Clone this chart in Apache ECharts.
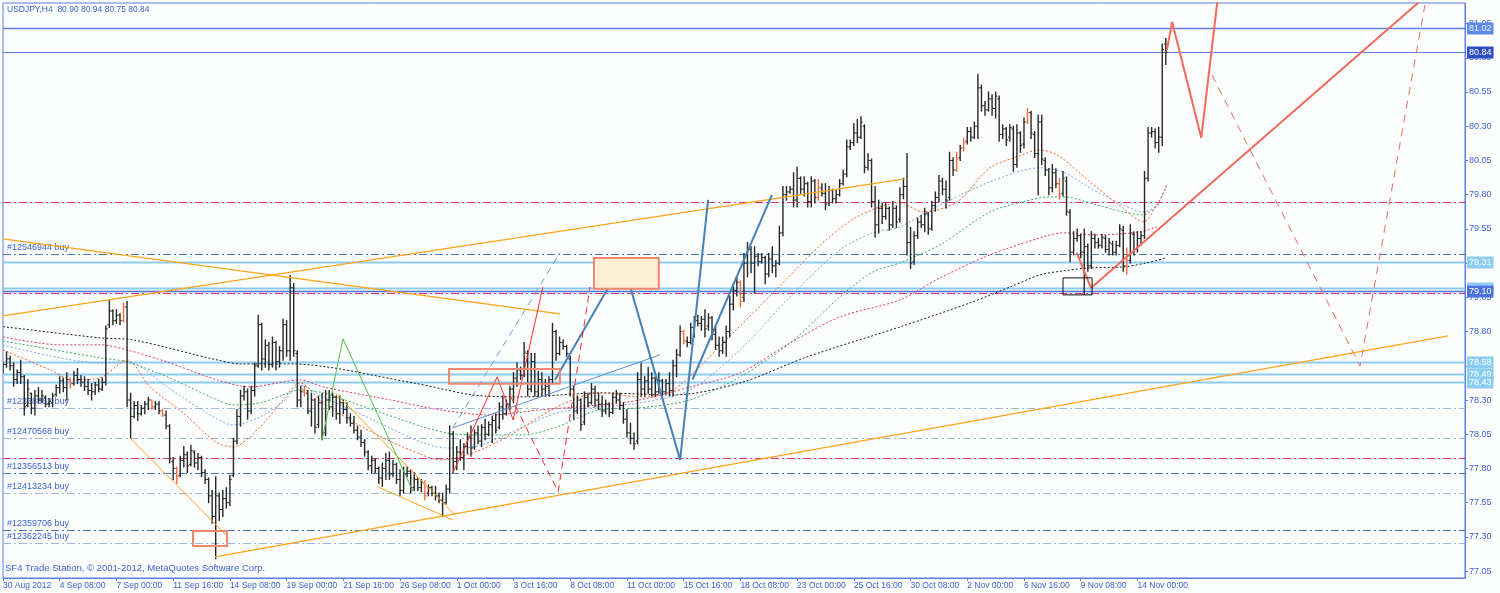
<!DOCTYPE html>
<html><head><meta charset="utf-8">
<script src="https://cdn.jsdelivr.net/npm/echarts@6.0.0/dist/echarts.min.js"></script>
<style>html,body{margin:0;padding:0;background:#fcfdfd}#c{width:1500px;height:593px}</style>
</head><body><div id="c"></div>
<script>
// ---------- DATA ----------
const xTickIdx = [0,16,32,48,64,80,96,112,128,144,160,176,192,208,224,240,256,272,288,304,320];
const xTickLabels = ['30 Aug 2012','4 Sep 08:00','7 Sep 00:00','11 Sep 16:00','14 Sep 08:00','19 Sep 00:00','21 Sep 16:00','26 Sep 08:00','1 Oct 00:00','3 Oct 16:00','8 Oct 08:00','11 Oct 00:00','15 Oct 16:00','18 Oct 08:00','23 Oct 00:00','25 Oct 16:00','30 Oct 08:00','2 Nov 00:00','6 Nov 16:00','9 Nov 08:00','14 Nov 00:00'];
const yTicks = [77.05,77.30,77.55,77.80,78.05,78.30,78.55,78.80,79.05,79.30,79.55,79.80,80.05,80.30,80.55,80.80,81.05];

const opens = [
78.52,78.56,78.60,78.55,78.45,78.50,78.47,78.26,78.35,78.24,
78.33,78.30,78.32,78.27,78.28,78.34,78.39,78.44,78.39,78.44,
78.42,78.48,78.45,78.43,78.40,78.37,78.36,78.41,78.38,78.43,
78.85,78.95,78.88,78.92,78.88,78.98,78.30,78.18,78.26,78.20,
78.24,78.27,78.30,78.25,78.27,78.22,78.19,78.11,77.85,77.80,
77.75,77.86,77.90,77.83,77.92,77.84,77.88,77.77,77.72,77.60,
77.45,77.60,77.50,77.58,77.55,77.75,78.00,78.18,78.33,78.36,
78.22,78.37,78.55,78.85,78.60,78.70,78.56,78.72,78.58,78.66,
78.85,78.66,79.12,78.64,78.30,78.36,78.35,78.22,78.30,78.12,
78.28,78.06,78.30,78.25,78.32,78.20,78.28,78.23,78.17,78.13,
78.08,78.03,77.99,77.92,77.82,77.86,77.80,77.73,77.80,77.86,
77.76,77.83,77.72,77.64,77.76,77.78,77.66,77.72,77.66,77.69,
77.62,77.66,77.62,77.60,77.57,77.55,77.65,78.05,77.85,77.92,
77.88,77.96,78.03,77.95,78.06,78.00,78.10,78.05,78.12,78.15,
78.10,78.25,78.20,78.27,78.38,78.46,78.52,78.48,78.64,78.38,
78.58,78.36,78.45,78.38,78.40,78.45,78.80,78.64,78.72,78.69,
78.60,78.38,78.22,78.30,78.14,78.32,78.28,78.38,78.30,78.27,
78.22,78.27,78.21,78.32,78.30,78.26,78.16,78.06,78.02,78.00,
78.45,78.38,78.44,78.38,78.46,78.36,78.44,78.36,78.42,78.37,
78.55,78.63,78.80,78.73,78.72,78.83,78.88,78.86,78.89,78.84,
78.90,78.78,78.70,78.66,78.72,78.80,79.00,79.10,79.16,79.05,
79.30,79.40,79.30,79.35,79.31,79.34,79.22,79.33,79.28,79.30,
79.52,79.80,79.82,79.84,79.76,79.92,79.84,79.88,79.75,79.90,
79.78,79.85,79.81,79.74,79.83,79.77,79.80,79.88,79.95,80.15,
80.18,80.25,80.22,80.30,80.00,80.05,79.75,79.58,79.70,79.64,
79.70,79.58,79.70,79.62,79.80,79.86,79.45,79.31,79.50,79.60,
79.58,79.66,79.55,79.72,79.78,79.90,79.84,79.78,80.05,79.98,
80.07,80.14,80.19,80.26,80.22,80.30,80.58,80.45,80.42,80.50,
80.43,80.50,80.24,80.28,80.22,80.28,80.02,80.25,80.17,80.33,
80.40,80.24,80.10,80.33,80.05,79.98,79.85,79.96,79.88,79.81,
79.90,79.67,79.38,79.48,79.50,79.38,79.42,79.28,79.48,79.45,
79.43,79.48,79.40,79.44,79.38,79.43,79.54,79.28,79.32,79.51,
79.40,79.48,79.50,79.92,80.25,80.26,80.18,80.22,80.90];
const highs = [
78.58,78.65,78.62,78.57,78.52,78.59,78.48,78.45,78.35,78.37,
78.39,78.37,78.33,78.31,78.35,78.41,78.47,78.46,78.50,78.46,
78.51,78.53,78.48,78.47,78.45,78.42,78.43,78.45,78.46,78.84,
79.03,78.96,78.96,78.93,79.01,79.02,78.35,78.29,78.29,78.26,
78.29,78.32,78.30,78.29,78.29,78.23,78.22,78.12,77.88,77.81,
77.89,77.96,77.92,77.97,77.93,77.91,77.89,77.79,77.73,77.64,
77.74,77.62,77.64,77.66,77.75,78.02,78.23,78.37,78.40,78.38,
78.40,78.57,78.92,78.86,78.74,78.72,78.76,78.73,78.69,78.89,
78.88,79.21,79.15,78.66,78.40,78.40,78.37,78.35,78.31,78.33,
78.35,78.37,78.37,78.35,78.33,78.33,78.30,78.28,78.20,78.18,
78.11,78.08,78.01,77.93,77.89,77.87,77.81,77.84,77.91,77.92,
77.86,77.84,77.79,77.81,77.81,77.79,77.77,77.73,77.72,77.71,
77.68,77.67,77.67,77.62,77.62,77.68,78.11,78.07,77.96,78.01,
77.98,78.06,78.11,78.08,78.11,78.12,78.16,78.14,78.18,78.20,
78.28,78.33,78.30,78.40,78.50,78.57,78.54,78.72,78.66,78.64,
78.64,78.51,78.50,78.45,78.47,78.86,78.81,78.76,78.74,78.70,
78.62,78.40,78.33,78.31,78.36,78.35,78.42,78.40,78.35,78.33,
78.30,78.28,78.35,78.37,78.35,78.28,78.23,78.13,78.06,78.50,
78.57,78.47,78.54,78.50,78.47,78.50,78.45,78.45,78.50,78.59,
78.67,78.84,78.81,78.76,78.86,78.91,78.92,78.91,78.96,78.93,
78.91,78.84,78.76,78.76,78.84,79.06,79.15,79.20,79.17,79.37,
79.45,79.42,79.42,79.37,79.37,79.35,79.37,79.42,79.32,79.57,
79.86,79.86,79.86,79.96,80.00,79.93,79.93,79.89,79.93,79.91,
79.91,79.88,79.88,79.86,79.84,79.83,79.91,79.98,80.20,80.20,
80.32,80.35,80.37,80.31,80.10,80.06,79.86,79.76,79.74,79.74,
79.71,79.75,79.72,79.85,79.92,80.10,79.56,79.53,79.63,79.65,
79.70,79.67,79.75,79.82,79.94,79.92,79.90,80.11,80.07,80.11,
80.16,80.21,80.29,80.29,80.33,80.68,80.60,80.48,80.55,80.53,
80.55,80.52,80.31,80.29,80.31,80.30,80.31,80.26,80.36,80.43,
80.41,80.26,80.38,80.38,80.07,79.99,80.02,79.99,79.92,79.97,
79.93,79.69,79.53,79.55,79.51,79.55,79.44,79.53,79.51,79.48,
79.51,79.50,79.48,79.46,79.46,79.58,79.57,79.41,79.58,79.53,
79.53,79.53,79.97,80.29,80.29,80.28,80.29,80.90,80.94];
const lows = [
78.50,78.54,78.52,78.40,78.42,78.42,78.19,78.25,78.20,78.19,
78.28,78.28,78.25,78.25,78.25,78.33,78.35,78.36,78.30,78.39,
78.41,78.42,78.40,78.37,78.34,78.30,78.34,78.36,78.37,78.41,
78.83,78.85,78.86,78.85,78.87,78.25,78.02,78.17,78.15,78.19,
78.20,78.23,78.23,78.23,78.20,78.18,78.09,77.84,77.72,77.69,
77.74,77.81,77.77,77.82,77.81,77.79,77.74,77.69,77.55,77.40,
77.14,77.42,77.45,77.51,77.53,77.74,77.98,78.11,78.30,78.16,
78.20,78.33,78.54,78.52,78.54,78.52,78.54,78.52,78.54,78.59,
78.62,78.59,78.62,78.25,78.25,78.33,78.20,78.11,78.06,78.10,
78.01,78.04,78.23,78.18,78.16,78.13,78.20,78.13,78.11,78.06,
78.01,77.96,77.89,77.79,77.77,77.77,77.69,77.67,77.72,77.72,
77.74,77.69,77.60,77.62,77.74,77.62,77.64,77.64,77.63,77.57,
77.60,77.60,77.57,77.55,77.45,77.54,77.62,77.77,77.79,77.86,
77.79,77.91,77.89,77.94,77.98,77.96,78.01,78.04,77.99,78.06,
78.09,78.16,78.19,78.23,78.28,78.40,78.45,78.47,78.33,78.36,
78.33,78.33,78.33,78.33,78.33,78.42,78.59,78.63,78.67,78.62,
78.33,78.16,78.20,78.08,78.12,78.25,78.27,78.25,78.23,78.18,
78.20,78.18,78.20,78.28,78.23,78.13,78.03,77.98,77.94,77.98,
78.33,78.33,78.35,78.33,78.33,78.35,78.33,78.35,78.33,78.33,
78.47,78.62,78.71,78.69,78.71,78.76,78.84,78.81,78.76,78.81,
78.74,78.67,78.62,78.64,78.62,78.76,78.96,79.06,78.98,79.02,
79.20,79.23,79.08,79.28,79.30,79.15,79.20,79.23,79.20,79.29,
79.50,79.76,79.81,79.71,79.71,79.81,79.79,79.71,79.71,79.74,
79.76,79.79,79.69,79.72,79.74,79.74,79.79,79.87,79.93,80.13,
80.16,80.18,80.21,79.96,79.98,79.71,79.49,79.52,79.59,79.62,
79.54,79.56,79.56,79.60,79.77,79.36,79.26,79.29,79.48,79.56,
79.53,79.51,79.54,79.68,79.75,79.80,79.70,79.76,79.94,79.97,
80.05,80.12,80.17,80.19,80.21,80.21,80.41,80.38,80.41,80.38,
80.36,80.19,80.21,80.16,80.19,79.97,80.00,80.11,80.14,80.32,
80.21,80.07,79.80,80.02,79.94,79.80,79.82,79.85,79.77,79.79,
79.65,79.31,79.36,79.46,79.34,79.07,79.24,79.26,79.41,79.41,
79.41,79.38,79.36,79.36,79.36,79.42,79.24,79.22,79.30,79.36,
79.38,79.43,79.48,79.90,80.22,80.14,80.11,80.16,80.75];
const closes = [
78.56,78.60,78.55,78.45,78.50,78.47,78.25,78.38,78.24,78.33,
78.30,78.33,78.27,78.29,78.33,78.39,78.44,78.39,78.45,78.42,
78.48,78.45,78.43,78.40,78.37,78.36,78.41,78.38,78.43,78.82,
78.95,78.88,78.92,78.88,78.98,78.30,78.18,78.26,78.20,78.24,
78.27,78.30,78.25,78.27,78.22,78.19,78.11,77.87,77.80,77.74,
77.86,77.90,77.82,77.93,77.84,77.88,77.77,77.72,77.60,77.45,
77.60,77.50,77.58,77.55,77.72,78.00,78.18,78.33,78.36,78.22,
78.37,78.55,78.85,78.60,78.70,78.56,78.72,78.58,78.66,78.85,
78.66,79.12,78.66,78.30,78.36,78.35,78.22,78.30,78.10,78.28,
78.05,78.30,78.25,78.32,78.20,78.28,78.23,78.17,78.13,78.08,
78.03,77.99,77.92,77.82,77.86,77.80,77.73,77.80,77.86,77.76,
77.83,77.72,77.64,77.76,77.78,77.66,77.72,77.66,77.70,77.60,
77.66,77.62,77.60,77.57,77.55,77.65,78.05,77.85,77.92,77.88,
77.96,78.03,77.95,78.06,78.00,78.10,78.05,78.12,78.15,78.08,
78.25,78.20,78.27,78.38,78.46,78.52,78.48,78.65,78.38,78.58,
78.36,78.45,78.38,78.40,78.45,78.80,78.64,78.72,78.69,78.64,
78.38,78.22,78.30,78.12,78.32,78.28,78.38,78.30,78.27,78.22,
78.27,78.21,78.32,78.30,78.26,78.16,78.06,78.02,77.98,78.45,
78.38,78.44,78.38,78.46,78.36,78.44,78.36,78.42,78.37,78.55,
78.63,78.80,78.73,78.72,78.83,78.88,78.86,78.89,78.82,78.90,
78.78,78.70,78.66,78.72,78.80,79.00,79.10,79.16,79.02,79.30,
79.40,79.30,79.35,79.31,79.34,79.22,79.33,79.28,79.30,79.52,
79.80,79.82,79.84,79.76,79.92,79.84,79.88,79.75,79.90,79.78,
79.85,79.81,79.73,79.83,79.77,79.80,79.88,79.95,80.15,80.18,
80.25,80.22,80.33,80.00,80.05,79.75,79.58,79.70,79.64,79.70,
79.58,79.70,79.60,79.80,79.86,79.45,79.30,79.50,79.60,79.58,
79.66,79.55,79.72,79.78,79.90,79.84,79.76,80.05,79.98,80.06,
80.14,80.18,80.26,80.22,80.30,80.58,80.45,80.42,80.50,80.43,
80.52,80.24,80.28,80.20,80.29,80.02,80.25,80.16,80.33,80.40,
80.25,80.10,80.33,80.06,79.98,79.85,79.96,79.88,79.80,79.92,
79.68,79.38,79.48,79.50,79.38,79.42,79.28,79.48,79.45,79.43,
79.49,79.40,79.45,79.38,79.43,79.55,79.28,79.32,79.52,79.40,
79.48,79.50,79.92,80.25,80.26,80.18,80.22,80.86,80.84];
const orangeBars = [19,34,42,45,49,85,119,192,208,230,269,271,289,298,317];

// moving averages: [bar index, price]
const maBlack = [[0,78.836],[27.4,78.754],[36.7,78.739],[60.4,78.593],[66.9,78.564],[81,78.564],[115.7,78.425],[132.6,78.337],[146.7,78.323],[168.4,78.352],[189,78.337],[207.9,78.425],[226.8,78.615],[253,78.834],[272.8,79.01],[284.1,79.126],[292.5,79.214],[299,79.243],[306.6,79.265],[315.9,79.272],[322.7,79.302],[328,79.338]];
const maRed = [[0,78.761],[16.1,78.703],[27.4,78.703],[35,78.666],[46.3,78.578],[60.4,78.447],[69.7,78.396],[79,78.432],[83.8,78.447],[90.3,78.396],[109.2,78.301],[123.3,78.228],[137.4,78.191],[151.5,78.228],[168.4,78.264],[179.7,78.301],[193.8,78.396],[207.9,78.498],[222,78.717],[236.1,78.907],[253,79.031],[264.3,79.192],[278.4,79.36],[292.5,79.484],[299,79.521],[308.6,79.506],[320.7,79.528],[325.5,79.565]];
const maGreen = [[0,78.732],[27.4,78.608],[35,78.578],[46.3,78.469],[60.4,78.301],[64.9,78.264],[72.5,78.279],[79,78.337],[83.8,78.374],[90.3,78.352],[104.4,78.228],[118.5,78.104],[125.2,78.06],[132.6,78.045],[146.7,78.045],[156.3,78.104],[168.4,78.228],[179.7,78.243],[193.8,78.301],[207.9,78.469],[222,78.717],[236.1,79.053],[245.4,79.236],[253,79.302],[264.3,79.433],[278.4,79.674],[287.7,79.747],[295.3,79.784],[299,79.784],[308.6,79.725],[315.9,79.674],[321.6,79.652],[326.4,79.74]];
const maBlue = [[0,78.703],[27.4,78.571],[35,78.578],[46.3,78.396],[57.5,78.206],[64.9,78.118],[72.5,78.177],[79,78.286],[83.8,78.41],[90.3,78.323],[104.4,78.155],[118.5,77.987],[125.2,77.95],[132.6,77.958],[146.7,78.104],[156.3,78.206],[168.4,78.25],[179.7,78.279],[193.8,78.374],[207.9,78.666],[222,79.053],[236.1,79.397],[245.4,79.521],[253,79.565],[264.3,79.725],[278.4,79.893],[292.5,79.996],[299,79.966],[306.6,79.849],[315.9,79.725],[321.6,79.674],[325.5,79.725],[328.3,79.871]];
const maOrange = [[0,78.666],[13.3,78.52],[19.7,78.447],[27.4,78.462],[35,78.593],[41.5,78.396],[50.8,78.206],[60.4,77.987],[64.9,77.958],[72.5,78.104],[79,78.301],[83.8,78.425],[90.3,78.279],[104.4,78.06],[116.8,77.914],[123.3,77.863],[132.6,77.914],[142.2,78.031],[156.3,78.25],[168.4,78.352],[179.7,78.323],[189,78.374],[203.1,78.717],[217.2,79.083],[231.3,79.448],[240.9,79.638],[253,79.74],[259.5,79.674],[269.1,79.747],[278.4,79.996],[287.7,80.091],[291.7,80.127],[297.3,80.091],[306.6,79.893],[315.9,79.703],[321.6,79.601],[325.5,79.725],[328.3,79.871]];

// horizontal levels
const tagLevels = [81.02, 80.84, 79.31, 79.12, 79.10, 78.58, 78.49, 78.43];
const orderLevels = [79.37, 78.245, 78.026, 77.765, 77.624, 77.35, 77.254];
const orderNames = ['#12546944 buy','#12338362 buy','#12470568 buy','#12356513 buy','#12413234 buy','#12359706 buy','#12362245 buy'];
const stopLevels = [79.75, 79.085, 77.879];

// drawn objects: [bar index, price]
const orangeTrend1 = [[0,78.914],[254.4,79.915]];
const orangeTrend2 = [[0,79.477],[157.1,78.929]];
const orangeTrend3 = [[59.8,77.154],[407.6,78.768]];
const orangeTrend4 = [[35.8,78.023],[62.9,77.315]];
const orangeTrend5 = [[93.7,78.352],[127.5,77.461]];
const orangeTrend6 = [[105.8,77.665],[126.9,77.424]];
const greenZig = [[90,78.009],[95.9,78.747],[115.7,77.629]];
const blueZig1 = [[155.7,78.447],[174.9,79.309],[191,77.863],[198.9,79.762]];
const blueZig2 = [[194.5,78.45],[216.9,79.798]];
const blueThin = [[126.9,78.097],[185.3,78.630]];
const blueDash = [[126.9,78.097],[157.1,79.375]];
const redZig = [[126.9,77.768],[139.4,78.469],[143.9,78.155],[152.3,79.126]];
const redDash = [[143,78.337],[156.6,77.629],[165.6,79.126]];
const salmonUp = [[302.9,79.375],[306.9,79.119],[399.2,81.201]];
const salmonProj = [[328.3,80.857],[329.8,81.062],[338,80.215],[343,81.31]];
const salmonDash = [[341,80.675],[382.8,78.549],[401.1,81.186]];
const boxes = [[53.6,77.344,63.2,77.234],[125.8,78.527,157.1,78.418],[166.7,79.338,185.0,79.112],[299,79.192,307.2,79.068]];

// ---------- STYLES ----------
const FONT = '"Liberation Sans", Arial, sans-serif';
const TXT = '#3f62d6';
const AX = '#5b7fe0';
const tagStyle = [
  {line:'#5b84e2', w:1.5, bg:'#5b8be4', fg:'#e8efff'},
  {line:'#5b84e2', w:1.2, bg:'#2c4fc4', fg:'#ffffff'},
  {line:'#8ccdf4', w:2, bg:'#8ccdf4', fg:'#ffffff'},
  {line:'#8ccdf4', w:2, bg:'#8ccdf4', fg:'#ffffff'},
  {line:'#4a72dc', w:1.5, bg:'#4a72dc', fg:'#ffffff'},
  {line:'#8ccdf4', w:2, bg:'#8ccdf4', fg:'#ffffff'},
  {line:'#8ccdf4', w:2, bg:'#8ccdf4', fg:'#ffffff'},
  {line:'#8ccdf4', w:2, bg:'#8ccdf4', fg:'#ffffff'}
];
const orderColors = ['#4a7cc0','#9db6da','#9db6da','#4a7cc0','#9db6da','#4a7cc0','#9db6da'];
const stopColor = '#d8327f';
const DASHDOT = [8,3,2,3];
const boxStyles = [
  {fill:'none', stroke:'#f2866f', lineWidth:2},
  {fill:'none', stroke:'#f2866f', lineWidth:2},
  {fill:'#fcefd4', stroke:'#f2866f', lineWidth:2},
  {fill:'none', stroke:'#111111', lineWidth:1}
];

// level items: value + how it is drawn
const levelData = [], levelLook = [];
stopLevels.forEach(p=>{ levelData.push([p]); levelLook.push({color:stopColor, w:1, dash:DASHDOT}); });
orderLevels.forEach((p,k)=>{ levelData.push([p]); levelLook.push({color:orderColors[k], w:1, dash:DASHDOT, name:orderNames[k]}); });
tagLevels.forEach((p,k)=>{ const s=tagStyle[k]; levelData.push([p]); levelLook.push({color:s.line, w:s.w, dash:null, tag:p.toFixed(2), bg:s.bg, fg:s.fg}); });

const orangeSet = new Set(orangeBars);
const barData = opens.map((o,i)=>[i,o,highs[i],lows[i],closes[i]]);

function seg(data, color, width, type, z){
  return {type:'line', data, symbol:'none', silent:true, animation:false, clip:true, color:color,
    lineStyle:{color, width, type:type||'solid'}, z:z||6};
}
function ma(data, color){
  return {type:'line', data, symbol:'none', smooth:0.3, silent:true, animation:false, color:color,
    lineStyle:{color, width:1, type:[2,2]}, z:3};
}

const chart = echarts.init(document.getElementById('c'));
chart.setOption({
  backgroundColor:'#fcfdfd',
  animation:false,
  textStyle:{fontFamily:FONT},
  grid:{left:3, right:35, top:3, bottom:15, show:true, borderColor:AX, borderWidth:1, backgroundColor:'transparent'},
  xAxis:{type:'value', min:0, max:412.4, position:'bottom',
    axisLine:{show:true, onZero:false, lineStyle:{color:AX}},
    axisTick:{show:true, length:3, lineStyle:{color:AX}, customValues:xTickIdx},
    axisLabel:{customValues:xTickIdx, formatter:v=>xTickLabels[xTickIdx.indexOf(Math.round(v))]||'', align:'left', margin:3, fontSize:8.5, color:TXT, fontFamily:FONT},
    splitLine:{show:false}},
  yAxis:{type:'value', min:77.0, max:81.2, position:'right',
    axisLine:{show:true, onZero:false, lineStyle:{color:AX}},
    axisTick:{show:true, length:3, lineStyle:{color:AX}, customValues:yTicks},
    axisLabel:{customValues:yTicks, formatter:v=>v.toFixed(2), margin:4, fontSize:9, color:TXT, fontFamily:FONT},
    splitLine:{show:false}},
  graphic:[
    {type:'text', left:7, top:5, style:{text:'USDJPY,H4  80.90 80.94 80.75 80.84', fill:TXT, font:'8.5px '+FONT}},
    {type:'text', left:5, top:563, style:{text:'SF4 Trade Station, \u00a9 2001-2012, MetaQuotes Software Corp.', fill:TXT, font:'9.5px '+FONT}}
  ],
  series: [
    {type:'custom', data:levelData, silent:true, animation:false, z:2, clip:false,
      encode:{y:0},
      renderItem:(params, api)=>{
        const look = levelLook[params.dataIndex];
        const cs = params.coordSys;
        const y = Math.round(api.coord([0, api.value(0)])[1]) + 0.5;
        const kids = [{type:'line', shape:{x1:cs.x, y1:y, x2:cs.x+cs.width, y2:y},
          style:{stroke:look.color, lineWidth:look.w, lineDash:look.dash}}];
        if (look.name) kids.push({type:'text', x:cs.x+4, y:y-2,
          style:{text:look.name, fill:TXT, font:'9px '+FONT, verticalAlign:'bottom', align:'left'}});
        if (look.tag) kids.push({type:'text', x:cs.x+cs.width+2, y:y,
          style:{text:look.tag, fill:look.fg, font:'9px '+FONT, verticalAlign:'middle', align:'left',
                 backgroundColor:look.bg, padding:[2,2,1,2]}, z2:10});
        return {type:'group', children:kids};
      }},
    ma(maBlack,'#1a1a1a'),
    ma(maRed,'#e8365d'),
    ma(maGreen,'#38b060'),
    ma(maBlue,'#7fa3ea'),
    ma(maOrange,'#ff5a22'),
    {type:'custom', data:barData, silent:true, animation:false, z:4, clip:true,
      encode:{x:0, y:[1,2,3,4]},
      renderItem:(params, api)=>{
        const i=api.value(0);
        const pH=api.coord([i,api.value(2)]), pL=api.coord([i,api.value(3)]);
        const pO=api.coord([i,api.value(1)]), pC=api.coord([i,api.value(4)]);
        const col = orangeSet.has(i) ? '#ff6b3d' : '#262626';
        return {type:'group', children:[
          {type:'line', shape:{x1:pH[0],y1:pH[1]-0.5,x2:pL[0],y2:pL[1]+0.5}, style:{stroke:col, lineWidth:1.4}},
          {type:'line', shape:{x1:pO[0]-1.8,y1:pO[1],x2:pO[0],y2:pO[1]}, style:{stroke:col, lineWidth:1}},
          {type:'line', shape:{x1:pC[0],y1:pC[1],x2:pC[0]+1.8,y2:pC[1]}, style:{stroke:col, lineWidth:1}}
        ]};
      }},
    seg(orangeTrend1,'#ffa31a',1.2),
    seg(orangeTrend2,'#ffa31a',1.2),
    seg(orangeTrend3,'#ffa31a',1.2),
    seg(orangeTrend4,'#ffa31a',1),
    seg(orangeTrend5,'#ffa31a',1),
    seg(orangeTrend6,'#ffa31a',1),
    seg(greenZig,'#4cc24c',1),
    seg(blueThin,'#5b8fd8',1),
    seg(blueDash,'#6b9be2',1,[7,5]),
    seg(blueZig1,'#4682b4',2),
    seg(blueZig2,'#4682b4',2),
    seg(redZig,'#ff2a2a',1),
    seg(redDash,'#ff2a2a',1,[7,5]),
    seg(salmonUp,'#f26a5a',2),
    seg(salmonProj,'#f26a5a',2),
    seg(salmonDash,'#e8705e',1,[8,6]),
    {type:'custom', data:boxes, silent:true, animation:false, z:7,
      encode:{x:[0,2], y:[1,3]},
      renderItem:(params, api)=>{
        const a=api.coord([api.value(0),api.value(1)]), b=api.coord([api.value(2),api.value(3)]);
        return {type:'rect', shape:{x:a[0],y:a[1],width:b[0]-a[0],height:b[1]-a[1]}, style:boxStyles[params.dataIndex]};
      }}
  ]
});
</script>
</body></html>
